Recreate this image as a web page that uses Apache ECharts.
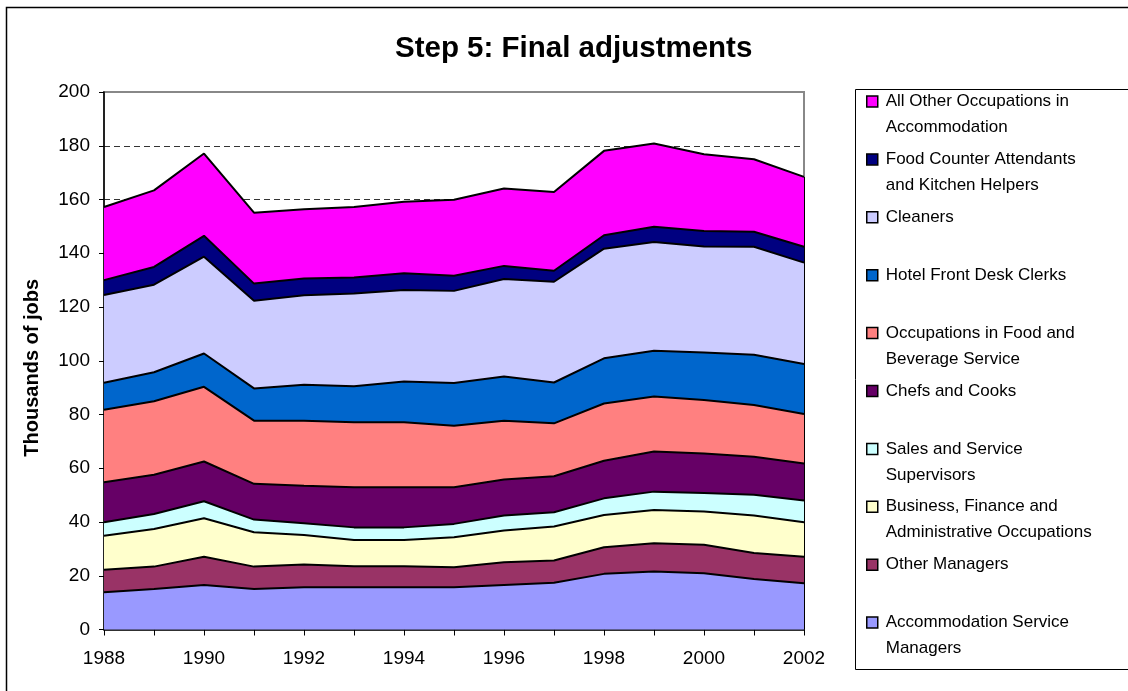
<!DOCTYPE html>
<html>
<head>
<meta charset="utf-8">
<title>Step 5: Final adjustments</title>
<script src="https://cdn.jsdelivr.net/npm/echarts@6/dist/echarts.min.js"></script>
<style>
  html, body { margin: 0; padding: 0; background: #fff; }
  #chart { width: 1128px; height: 691px; }
</style>
</head>
<body>
<div id="chart"></div>
<script>
// x axis categories
var years = ['1988', '1989', '1990', '1991', '1992', '1993', '1994', '1995',
  '1996', '1997', '1998', '1999', '2000', '2001', '2002'];

// thousands of jobs, bottom layer first
var accServiceManagers = [13.9, 15.1, 16.6, 15.1, 15.7, 15.7, 15.7, 15.7, 16.6, 17.4, 20.7, 21.6, 20.9, 18.8, 17.2];
var otherManagers = [8.3, 8.3, 10.5, 8.3, 8.5, 7.8, 7.8, 7.5, 8.4, 8.3, 9.9, 10.5, 10.6, 9.7, 9.9];
var businessFinance = [12.7, 14.0, 14.3, 12.8, 11.0, 9.8, 9.8, 11.1, 11.8, 12.6, 12.0, 12.4, 12.4, 13.9, 12.8];
var salesSupervisors = [5.0, 5.6, 6.3, 4.7, 4.3, 4.7, 4.7, 5.0, 5.6, 5.3, 6.2, 6.8, 6.9, 7.7, 8.1];
var chefsCooks = [14.9, 14.6, 14.8, 13.3, 14.0, 14.9, 14.9, 13.6, 13.4, 13.4, 14.0, 14.9, 14.7, 14.2, 13.8];
var foodBeverage = [27.0, 27.3, 27.8, 23.5, 24.2, 24.2, 24.2, 22.9, 21.9, 19.7, 21.3, 20.5, 19.9, 19.2, 18.4];
var frontDesk = [10.0, 10.8, 12.4, 12.0, 13.4, 13.4, 15.2, 15.9, 16.4, 15.2, 16.8, 17.0, 17.7, 18.7, 18.6];
var cleaners = [32.7, 32.6, 36.0, 32.6, 33.3, 34.5, 34.0, 34.3, 36.3, 37.5, 40.8, 40.5, 39.4, 40.2, 37.7];
var foodCounter = [5.5, 6.6, 7.8, 6.4, 6.2, 6.0, 6.3, 5.6, 4.9, 4.1, 5.0, 5.7, 5.8, 5.6, 5.9];
var allOther = [27.2, 28.5, 30.6, 26.4, 25.8, 26.2, 26.6, 28.3, 28.8, 29.3, 31.4, 30.9, 28.5, 27.0, 26.0];

var seriesNames = [
  'Accommodation Service Managers',
  'Other Managers',
  'Business, Finance and Administrative Occupations',
  'Sales and Service Supervisors',
  'Chefs and Cooks',
  'Occupations in Food and Beverage Service',
  'Hotel Front Desk Clerks',
  'Cleaners',
  'Food Counter Attendants and Kitchen Helpers',
  'All Other Occupations in Accommodation'
];
// legend text as wrapped in the original
var legendLabels = [
  'Accommodation Service\nManagers',
  'Other Managers',
  'Business, Finance and\nAdministrative Occupations',
  'Sales and Service\nSupervisors',
  'Chefs and Cooks',
  'Occupations in Food and\nBeverage Service',
  'Hotel Front Desk Clerks',
  'Cleaners',
  'Food Counter Attendants\nand Kitchen Helpers',
  'All Other Occupations in\nAccommodation'
];
var seriesData = [accServiceManagers, otherManagers, businessFinance, salesSupervisors, chefsCooks,
  foodBeverage, frontDesk, cleaners, foodCounter, allOther];
var colors = ['#9999FF', '#993366', '#FFFFCC', '#CCFFFF', '#660066',
  '#FF8080', '#0066CC', '#CCCCFF', '#000080', '#FF00FF'];

var font = 'Liberation Sans, Arial, sans-serif';
var chart = echarts.init(document.getElementById('chart'));

var lastTotal = 0;
seriesData.forEach(function (d) { lastTotal += d[d.length - 1]; });

var series = seriesData.map(function (d, i) {
  var s = {
    name: seriesNames[i],
    type: 'line',
    stack: 'jobs',
    data: d,
    z: 20 - i, // lower layers on top so each black edge stays whole
    symbol: 'none',
    color: colors[i],
    itemStyle: { color: colors[i] },
    lineStyle: { color: '#000', width: 2 },
    areaStyle: { color: colors[i], opacity: 1 },
    emphasis: { disabled: true }
  };
  if (i === 0) {
    // right-hand outline of the stacked area
    s.markLine = {
      silent: true,
      symbol: 'none',
      label: { show: false },
      lineStyle: { color: '#000', width: 2, type: 'solid' },
      data: [[{ coord: [years[years.length - 1], 0] }, { coord: [years[years.length - 1], lastTotal] }]]
    };
  }
  return s;
});

// one legend per entry so the rows keep the original spacing
var legends = [];
for (var k = 0; k < seriesNames.length; k++) {
  var idx = seriesNames.length - 1 - k;
  var twoLine = legendLabels[idx].indexOf('\n') >= 0;
  // a blank first line puts the symbol beside the first text line
  var label = twoLine ? '\u00a0\n' + legendLabels[idx] : legendLabels[idx];
  var cy = 101.5 + k * 57.9;
  legends.push({
    orient: 'vertical',
    left: 866,
    top: twoLine ? cy - 39 : cy - 13,
    padding: 0,
    data: [seriesNames[idx]],
    icon: 'rect',
    itemWidth: 11,
    itemHeight: 11,
    selectedMode: false,
    formatter: (function (lbl) { return function () { return lbl; }; })(label),
    itemStyle: { borderColor: '#000', borderWidth: 1.5 },
    textStyle: {
      fontFamily: font, fontSize: 17, color: '#000', lineHeight: 26,
      padding: [0, 0, 0, 3]
    }
  });
}

chart.setOption({
  backgroundColor: '#fff',
  animation: false,
  title: {
    text: 'Step 5: Final adjustments',
    left: 390,
    top: 29,
    textStyle: { fontFamily: font, fontSize: 29.5, fontWeight: 'bold', color: '#000' }
  },
  legend: legends,
  grid: {
    left: 104,
    right: 324,
    top: 92,
    bottom: 61.5,
    show: true,
    backgroundColor: '#fff',
    borderColor: '#888',
    borderWidth: 2
  },
  xAxis: {
    type: 'category',
    data: years,
    boundaryGap: false,
    axisLine: { lineStyle: { color: '#000', width: 1.5 } },
    axisTick: { show: true, interval: 0, length: 6, lineStyle: { color: '#000' } },
    axisLabel: { interval: 1, margin: 20, fontFamily: font, fontSize: 19, color: '#000' },
    splitLine: { show: false }
  },
  yAxis: {
    type: 'value',
    min: 0,
    max: 200,
    interval: 20,
    name: 'Thousands of jobs',
    nameLocation: 'middle',
    nameGap: 62,
    nameTextStyle: { fontFamily: font, fontSize: 20, fontWeight: 'bold', color: '#000', padding: [0, 14, 0, 0] },
    axisLine: { show: true, lineStyle: { color: '#000', width: 1.5 } },
    axisTick: { show: true, length: 5, lineStyle: { color: '#000' } },
    axisLabel: { margin: 14, fontFamily: font, fontSize: 19, color: '#000' },
    splitLine: {
      show: true,
      showMinLine: false,
      showMaxLine: false,
      lineStyle: { color: '#333', type: [6, 4], width: 1 }
    }
  },
  graphic: [
    {
      type: 'rect', silent: true, z: 100,
      shape: { x: 6.5, y: 7.5, width: 1300, height: 800 },
      style: { fill: 'none', stroke: '#000', lineWidth: 1.5 }
    },
    {
      type: 'rect', silent: true, z: 100,
      shape: { x: 855.5, y: 89.5, width: 400, height: 580 },
      style: { fill: 'none', stroke: '#000', lineWidth: 1 }
    }
  ],
  series: series
});
</script>
</body>
</html>
